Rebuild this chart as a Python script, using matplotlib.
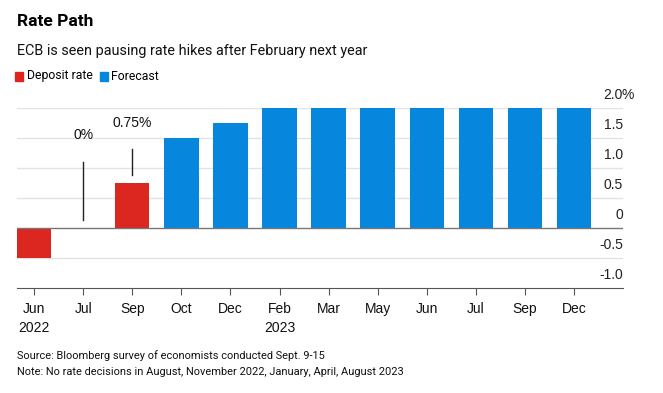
import matplotlib
matplotlib.use('Agg')
import matplotlib.pyplot as plt
import matplotlib.transforms as mtransforms

# data
months = ['Jun', 'Jul', 'Sep', 'Oct', 'Dec', 'Feb', 'Mar', 'May', 'Jun', 'Jul', 'Sep', 'Dec']
years = ['2022', '', '', '', '', '2023', '', '', '', '', '', '']
rates = [-0.5, 0.0, 0.75, 1.5, 1.75, 2.0, 2.0, 2.0, 2.0, 2.0, 2.0, 2.0]
forecast = [False, False, False, True, True, True, True, True, True, True, True, True]
y_ticks = [-1.0, -0.5, 0.0, 0.5, 1.0, 1.5, 2.0]
y_tick_labels = ['-1.0', '-0.5', '0', '0.5', '1.0', '1.5', '2.0']
callouts = {1: '0%', 2: '0.75%'}

RED = '#dc2620'
BLUE = '#0686dc'
W, H = 663, 393
HEAD = ['Roboto', 'DejaVu Sans']

plt.rcParams['font.family'] = ['Liberation Sans', 'DejaVu Sans']
fig = plt.figure(figsize=(W / 100, H / 100), dpi=100)

# axes in pixel coordinates
x0, x1, ytop, ybot = 17, 623, 108, 288
ax = fig.add_axes([x0 / W, 1 - ybot / H, (x1 - x0) / W, (ybot - ytop) / H])
ax.set_xlim(-0.35, 12.0)
ax.set_ylim(-1.0, 2.0)

for v in y_ticks[1:]:
    if v == 0:
        continue
    ax.axhline(v, color='#e3e3e3', linewidth=1.0, zorder=0)

xs = list(range(len(months)))
colors = [BLUE if f else RED for f in forecast]
ax.bar(xs, rates, width=0.7, color=colors, zorder=2)
ax.axhline(0, color='#777777', linewidth=1.0, zorder=3)

for i, txt in callouts.items():
    v = rates[i]
    top = v + 1.1 if v == 0 else v + 0.56
    ax.plot([i, i], [v + 0.13, top], color='#222222', linewidth=1.0, zorder=3)
    ax.text(i, top + 0.33, txt, ha='center', va='bottom', fontsize=10, color='#111111')

# y labels sit on the right, above each gridline
tr = mtransforms.offset_copy(ax.get_yaxis_transform(), fig=fig, x=0, y=4, units='points')
for v, lab in zip(y_ticks, y_tick_labels):
    ax.text(1.0, v, lab, transform=tr, ha='right', va='bottom', fontsize=10, color='#222222')
ax.text(0.998, 2.0, '%', transform=tr, ha='left', va='bottom', fontsize=10, color='#222222')

for s in ['top', 'right', 'left']:
    ax.spines[s].set_visible(False)
ax.spines['bottom'].set_color('#555555')
ax.set_yticks([])
ax.set_xticks(xs)
ax.set_xticklabels([m + ('\n' + y if y else '') for m, y in zip(months, years)],
                   fontsize=10, color='#111111', linespacing=1.5, va='top')
ax.tick_params(axis='x', length=5, color='#555555', pad=5)

# header
fig.text(x0 / W, 1 - 22 / H, 'Rate Path', fontsize=12.5, fontweight='bold', va='center',
         color='#000000', family=HEAD)
fig.text(x0 / W, 1 - 51 / H, 'ECB is seen pausing rate hikes after February next year',
         fontsize=10.4, va='center', color='#111111', family=HEAD)
fig.patches.append(plt.Rectangle((15 / W, 1 - 81 / H), 8 / W, 9 / H, color=RED, transform=fig.transFigure))
fig.text(27 / W, 1 - 76 / H, 'Deposit rate', fontsize=8.8, va='center', family=HEAD)
fig.patches.append(plt.Rectangle((100 / W, 1 - 81 / H), 8 / W, 9 / H, color=BLUE, transform=fig.transFigure))
fig.text(111 / W, 1 - 76 / H, 'Forecast', fontsize=8.8, va='center', family=HEAD)

# footer
fig.text(x0 / W, 1 - 356 / H, 'Source: Bloomberg survey of economists conducted Sept. 9-15',
         fontsize=7.9, va='center', color='#111111', family=HEAD)
fig.text(x0 / W, 1 - 372 / H, 'Note: No rate decisions in August, November 2022, January, April, August 2023',
         fontsize=7.9, va='center', color='#111111', family=HEAD)

fig.savefig('out.png', dpi=100)
